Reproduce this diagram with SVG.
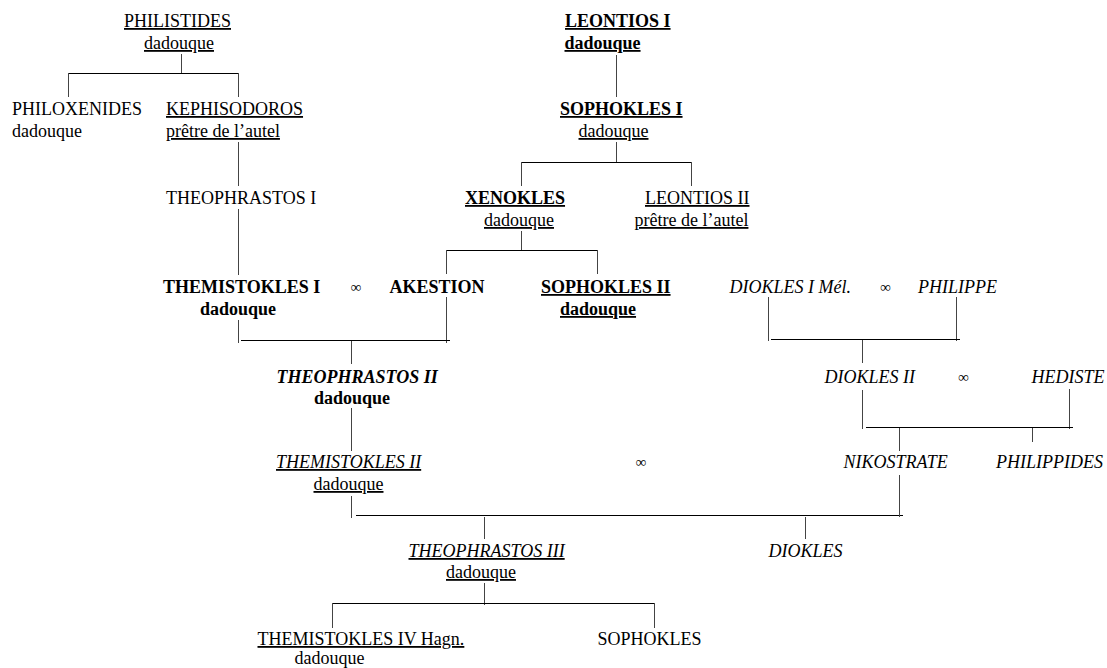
<svg xmlns="http://www.w3.org/2000/svg" width="1107" height="668" viewBox="0 0 1107 668">
<style>
.t{font-family:"Liberation Serif","Times New Roman",serif;font-size:18px;fill:#000}
.b{font-weight:bold}
.i{font-style:italic}
.u{text-decoration:underline}
.m{font-family:"Liberation Serif","DejaVu Serif",serif;font-size:15px;fill:#000;text-anchor:middle}
.c line{stroke:#000;stroke-width:1}
.c line.v{stroke:#444}
</style>
<rect width="1107" height="668" fill="#fff"/>
<g class="c" id="connectors">
<line class="v" x1="181.5" y1="54" x2="181.5" y2="73"/>
<line x1="68" y1="73.5" x2="238" y2="73.5"/>
<line class="v" x1="68.5" y1="73" x2="68.5" y2="97"/>
<line class="v" x1="238.5" y1="73" x2="238.5" y2="97"/>
<line class="v" x1="238.5" y1="142" x2="238.5" y2="186"/>
<line class="v" x1="238.5" y1="209" x2="238.5" y2="275"/>
<line class="v" x1="616.5" y1="55" x2="616.5" y2="97"/>
<line class="v" x1="616.5" y1="142" x2="616.5" y2="162"/>
<line x1="521" y1="162.5" x2="692" y2="162.5"/>
<line class="v" x1="521.5" y1="162" x2="521.5" y2="186"/>
<line class="v" x1="691.5" y1="162" x2="691.5" y2="186"/>
<line class="v" x1="521.5" y1="231" x2="521.5" y2="250"/>
<line x1="446" y1="250.5" x2="598" y2="250.5"/>
<line class="v" x1="446.5" y1="250" x2="446.5" y2="274"/>
<line class="v" x1="597.5" y1="250" x2="597.5" y2="274"/>
<line class="v" x1="238.5" y1="320" x2="238.5" y2="343"/>
<line class="v" x1="446.5" y1="297" x2="446.5" y2="343"/>
<line x1="241" y1="340.5" x2="450" y2="340.5"/>
<line class="v" x1="351.5" y1="341" x2="351.5" y2="364"/>
<line class="v" x1="351.5" y1="408" x2="351.5" y2="451"/>
<line class="v" x1="351.5" y1="496" x2="351.5" y2="518"/>
<line x1="356" y1="515.5" x2="903" y2="515.5"/>
<line class="v" x1="899.5" y1="475" x2="899.5" y2="517"/>
<line class="v" x1="484.5" y1="517" x2="484.5" y2="539"/>
<line class="v" x1="805.5" y1="517" x2="805.5" y2="539"/>
<line class="v" x1="484.5" y1="583" x2="484.5" y2="605"/>
<line x1="332" y1="603.5" x2="654" y2="603.5"/>
<line class="v" x1="332.5" y1="603" x2="332.5" y2="628"/>
<line class="v" x1="654.5" y1="603" x2="654.5" y2="628"/>
<line class="v" x1="768.5" y1="297" x2="768.5" y2="341"/>
<line class="v" x1="956.5" y1="297" x2="956.5" y2="341"/>
<line x1="771" y1="339.5" x2="960" y2="339.5"/>
<line class="v" x1="862.5" y1="340" x2="862.5" y2="363"/>
<line class="v" x1="862.5" y1="390" x2="862.5" y2="429"/>
<line class="v" x1="1069.5" y1="389" x2="1069.5" y2="429"/>
<line x1="866" y1="427.5" x2="1073" y2="427.5"/>
<line class="v" x1="899.5" y1="428" x2="899.5" y2="451"/>
<line class="v" x1="1032.5" y1="428" x2="1032.5" y2="442"/>
</g>
<g id="philistides"><text class="t u" x="124" y="27">PHILISTIDES</text><text class="t u" x="144" y="49">dadouque</text></g>
<g id="philoxenides"><text class="t" x="12" y="115">PHILOXENIDES</text><text class="t" x="12" y="137">dadouque</text></g>
<g id="kephisodoros"><text class="t u" x="166" y="115">KEPHISODOROS</text><text class="t u" x="166" y="137">prêtre de l’autel</text></g>
<g id="theophrastos1"><text class="t" x="166" y="204">THEOPHRASTOS I</text></g>
<g id="leontios1"><text class="t b u" x="565" y="27">LEONTIOS I</text><text class="t b u" x="564.5" y="49">dadouque</text></g>
<g id="sophokles1"><text class="t b u" x="560" y="115">SOPHOKLES I</text><text class="t u" x="578.5" y="137">dadouque</text></g>
<g id="xenokles"><text class="t b u" x="465" y="204">XENOKLES</text><text class="t u" x="484" y="226">dadouque</text></g>
<g id="leontios2"><text class="t u" x="645" y="204">LEONTIOS II</text><text class="t u" x="634.5" y="226">prêtre de l’autel</text></g>
<g id="themistokles1"><text class="t b" x="163" y="293">THEMISTOKLES I</text><text class="t b" x="200" y="315">dadouque</text></g>
<text class="m" x="356" y="292">∞</text>
<g id="akestion"><text class="t b" x="389.5" y="293">AKESTION</text></g>
<g id="sophokles2"><text class="t b u" x="541" y="293">SOPHOKLES II</text><text class="t b u" x="560" y="315">dadouque</text></g>
<g id="diokles1"><text class="t i" x="729.5" y="293">DIOKLES I Mél.</text></g>
<text class="m" x="885.5" y="292">∞</text>
<g id="philippe"><text class="t i" x="918" y="293">PHILIPPE</text></g>
<g id="theophrastos2"><text class="t b i" x="276.5" y="383">THEOPHRASTOS II</text><text class="t b" x="314" y="404">dadouque</text></g>
<g id="diokles2"><text class="t i" x="824.5" y="383">DIOKLES II</text></g>
<text class="m" x="963.5" y="382">∞</text>
<g id="hediste"><text class="t i" x="1031.5" y="383">HEDISTE</text></g>
<g id="themistokles2"><text class="t i u" x="276" y="468">THEMISTOKLES II</text><text class="t u" x="313.5" y="490">dadouque</text></g>
<text class="m" x="641" y="467">∞</text>
<g id="nikostrate"><text class="t i" x="843.5" y="468">NIKOSTRATE</text></g>
<g id="philippides"><text class="t i" x="996" y="468">PHILIPPIDES</text></g>
<g id="theophrastos3"><text class="t i u" x="408.5" y="557">THEOPHRASTOS III</text><text class="t u" x="446" y="578">dadouque</text></g>
<g id="diokles"><text class="t i" x="768.5" y="557">DIOKLES</text></g>
<g id="themistokles4"><text class="t u" x="257.5" y="645">THEMISTOKLES IV Hagn.</text><text class="t" x="294.5" y="664">dadouque</text></g>
<g id="sophokles"><text class="t" x="597.5" y="645">SOPHOKLES</text></g>
</svg>
